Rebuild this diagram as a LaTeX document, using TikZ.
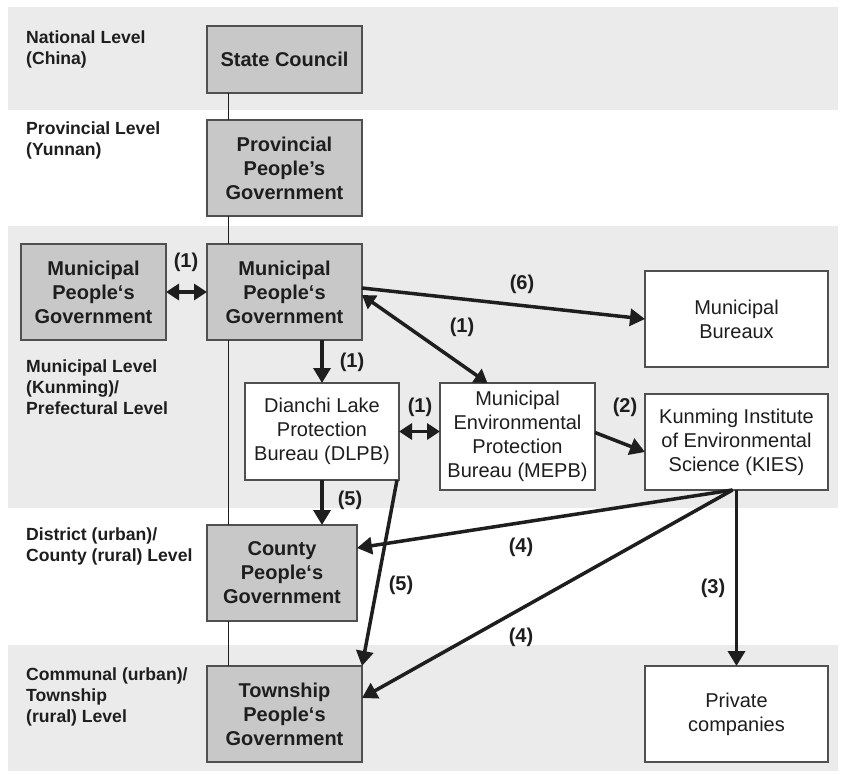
\documentclass[tikz,border=0pt]{standalone}
\usepackage{fontspec}
\setmainfont{Liberation Sans}
\usepackage{tikz}
\usetikzlibrary{positioning,arrows.meta,calc}

\definecolor{bandgray}{HTML}{EBEBEB}
\definecolor{boxgray}{HTML}{C8C8C8}
\definecolor{edgegray}{HTML}{505050}
\definecolor{inkdark}{HTML}{1E1E1E}

\begin{document}
\begin{tikzpicture}[x=1pt,y=-1pt,
  govbox/.style={draw=edgegray, line width=1.2pt, fill=boxgray, inner sep=0pt, outer sep=0pt,
    align=center, text=inkdark, font=\fontsize{20}{24}\selectfont\bfseries},
  officebox/.style={draw=edgegray, line width=1.2pt, fill=white, inner sep=0pt, outer sep=0pt,
    align=center, text=inkdark, font=\fontsize{20}{24}\selectfont},
  levellabel/.style={anchor=north west, inner sep=0pt, align=left, text=inkdark,
    font=\fontsize{17.6}{20.8}\selectfont\bfseries},
  linklabel/.style={inner sep=0pt, text=inkdark, font=\fontsize{20}{24}\selectfont\bfseries},
  link/.style={line width=3.5pt, draw=inkdark, -{Triangle[length=15pt,width=17pt]}},
  twoway/.style={line width=3.5pt, draw=inkdark, {Triangle[length=13pt,width=16pt]}-{Triangle[length=13pt,width=16pt]}},
  spineline/.style={line width=1pt, draw=inkdark}]

\useasboundingbox (0,0) rectangle (841,774);

% Level bands
\fill[bandgray] (8,7) rectangle (838,110);
\fill[bandgray] (8,226) rectangle (838,508);
\fill[bandgray] (8,645) rectangle (838,771);

% Level names
\node[levellabel] (natl) at (26,31) {National Level\\(China)};
\node[levellabel] (provl) at (26,122) {Provincial Level\\(Yunnan)};
\node[levellabel] (munl) at (26,360) {Municipal Level\\(Kunming)/\\Prefectural Level};
\node[levellabel] (distl) at (26,528) {District (urban)/\\County (rural) Level};
\node[levellabel] (coml) at (26,668) {Communal (urban)/\\Township\\(rural) Level};

% Government hierarchy
\node[govbox, minimum width=155pt, minimum height=67pt] (state) at (284.5,59.5) {State Council};
\node[govbox, minimum width=155pt, minimum height=96pt] (prov) at (284.5,168) {Provincial\\People’s\\Government};
\node[govbox, minimum width=155pt, minimum height=96pt] (muni) at (284.5,292) {Municipal\\People‘s\\Government};
\node[govbox, minimum width=145pt, minimum height=96pt] (munileft) at (93.5,292) {Municipal\\People‘s\\Government};
\node[govbox, minimum width=150pt, minimum height=96pt] (county) at (282,573) {County\\People‘s\\Government};
\node[govbox, minimum width=155pt, minimum height=96pt] (town) at (284.5,714) {Township\\People‘s\\Government};

% Offices and others
\node[officebox, minimum width=154pt, minimum height=97pt] (dlpb) at (322,431.5) {Dianchi Lake\\Protection\\Bureau (DLPB)};
\node[officebox, minimum width=155pt, minimum height=107pt] (mepb) at (517.5,436.5) {Municipal\\Environmental\\Protection\\Bureau (MEPB)};
\node[officebox, minimum width=183pt, minimum height=96pt] (kies) at (736.5,442) {Kunming Institute\\of Environmental\\Science (KIES)};
\node[officebox, minimum width=183pt, minimum height=96pt] (bureaux) at (736.5,319) {Municipal\\Bureaux};
\node[officebox, minimum width=183pt, minimum height=96pt] (priv) at (736.5,714) {Private\\companies};

% Hierarchy line
\coordinate (spine) at (228,0);
\draw[spineline] (state.south -| spine) -- (prov.north -| spine);
\draw[spineline] (prov.south -| spine) -- (muni.north -| spine);
\draw[spineline] (muni.south -| spine) -- (county.north -| spine);
\draw[spineline] (county.south -| spine) -- (town.north -| spine);

% Relations
\draw[twoway] (munileft.east) -- (munileft.east -| muni.west);
\draw[link] (muni.south -| dlpb.north) -- (dlpb.north);
\draw[twoway] ([yshift=-3pt]muni.east) -- ([xshift=-30pt]mepb.north);
\draw[link] ([yshift=4pt]muni.east) -- (bureaux.west);
\draw[twoway] (dlpb.east) -- (dlpb.east -| mepb.west);
\draw[link] ([yshift=4pt]mepb.east) -- ([yshift=-10pt]kies.west);
\draw[link] (dlpb.south) -- (dlpb.south |- county.north);
\draw[link] ([xshift=-2pt]dlpb.south east) -- (town.north east);
\draw[link] ([xshift=-4pt]kies.south) -- ([yshift=25pt]county.east);
\draw[link] ([xshift=-4pt]kies.south) -- ([yshift=16pt]town.east);
\draw[link] (kies.south) -- (priv.north);

% Relation numbers
\node[linklabel] (n1a) at (186,262) {(1)};
\node[linklabel] (n1b) at (352,362) {(1)};
\node[linklabel] (n1c) at (462,327) {(1)};
\node[linklabel] (n6) at (522,284) {(6)};
\node[linklabel] (n1d) at (420,407) {(1)};
\node[linklabel] (n2) at (625,407) {(2)};
\node[linklabel] (n5a) at (350,500) {(5)};
\node[linklabel] (n5b) at (401,585) {(5)};
\node[linklabel] (n4a) at (521,547) {(4)};
\node[linklabel] (n4b) at (521,637) {(4)};
\node[linklabel] (n3) at (713,588) {(3)};

\end{tikzpicture}
\end{document}
